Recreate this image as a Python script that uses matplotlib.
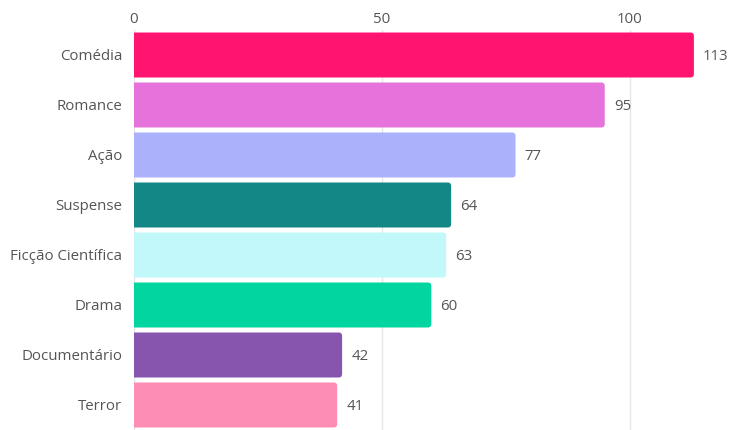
import matplotlib.pyplot as plt
from matplotlib.patches import FancyBboxPatch

plt.rcParams['font.family'] = ['Open Sans', 'DejaVu Sans']

generos = ['Comédia', 'Romance', 'Ação', 'Suspense', 'Ficção Científica',
           'Drama', 'Documentário', 'Terror']
filmes = [113, 95, 77, 64, 63, 60, 42, 41]
cores = ['#FF1470', '#E573DB', '#ABB2FB', '#128786', '#C3F8FB',
         '#02D59F', '#8755AE', '#FE8DB5']

W, H = 732, 430
fig = plt.figure(figsize=(W / 100, H / 100), dpi=100)
ax_w = 495.5 * 1.2
ax = fig.add_axes([134 / W, 0, ax_w / W, 400 / H])

n = len(generos)
ax.set_ylim(n - 0.5, -0.5)
ax.set_xlim(0, 120)

# rounded bar ends; bars start left of 0 so the clipped left side stays square
px_x = ax_w / 120
px_y = 400 / n
for i, (v, c) in enumerate(zip(filmes, cores)):
    box = FancyBboxPatch((-2, i - 0.45), v + 2, 0.9,
                         boxstyle='round,pad=0,rounding_size=0.7',
                         mutation_aspect=px_x / px_y,
                         facecolor=c, edgecolor='none', zorder=2)
    ax.add_patch(box)
    ax.annotate(str(v), (v, i), xytext=(6.5, 0), textcoords='offset points',
                va='center_baseline', ha='left', fontsize=10.8,
                color='#555555')

ax.set_yticks(range(n))
ax.set_yticklabels(generos, fontsize=10.8, color='#555555')
ax.set_xticks([0, 50, 100])
ax.xaxis.tick_top()
ax.tick_params(axis='x', labelsize=10.8, labelcolor='#555555', length=0, pad=2.5)
ax.tick_params(axis='y', length=0, pad=8.5)
ax.grid(axis='x', color='#e6e6e6', linewidth=1, zorder=0)
for s in ax.spines.values():
    s.set_visible(False)

fig.savefig('out.png', dpi=100)
